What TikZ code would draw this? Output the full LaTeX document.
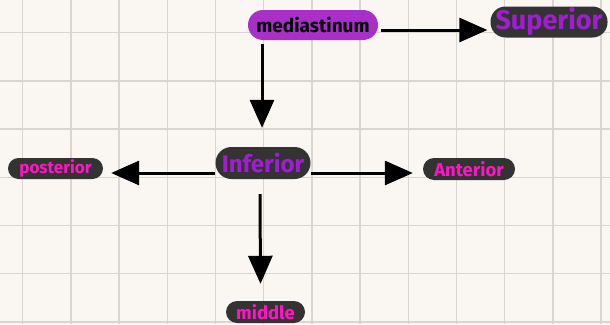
\documentclass[tikz,border=0pt]{standalone}
\usepackage{fontspec}
\setmainfont{Fira Sans}
\usetikzlibrary{arrows.meta}
\definecolor{paper}{HTML}{FAF7F2}
\definecolor{gridc}{HTML}{D9D5CF}
\definecolor{pillpurple}{HTML}{A82FC8}
\definecolor{txtpurple}{HTML}{A11ECF}
\definecolor{txtmagenta}{HTML}{FF14C8}
\definecolor{pilldark}{HTML}{333333}
\tikzset{
  pill/.style={rounded corners=#1, inner sep=0pt, draw=none},
  darkpill/.style={pill=#1, fill=pilldark},
  arr/.style={line width=3pt, -{Triangle[length=28pt,width=24pt]}},
  gridline/.style={draw=gridc, line width=1.5pt}
}
\begin{document}
\begin{tikzpicture}[x=1pt,y=-1pt]
\fill[paper] (0,0) rectangle (610,324);
\useasboundingbox (0,0) rectangle (610,324);
\foreach \i in {0,...,12} {\draw[gridline] ({22.7+48.2*\i},0) -- ({22.7+48.2*\i},324);}
\foreach \j in {0,...,6} {\draw[gridline] (0,{32.7+48.2*\j}) -- (610,{32.7+48.2*\j});}

\node[pill=15pt, fill=pillpurple, minimum width=130pt, minimum height=30pt, font=\fontsize{19}{19}\selectfont\bfseries, text=black] (med) at (313,25) {mediastinum};
\node[darkpill=15pt, minimum width=117pt, minimum height=31pt, font=\fontsize{27}{27}\selectfont\bfseries, text=txtpurple] (sup) at (549,22) {Superior};
\node[darkpill=16pt, minimum width=95pt, minimum height=32pt, font=\fontsize{24}{24}\selectfont\bfseries, text=txtpurple] (inf) at (263,163) {Inferior};
\node[darkpill=10.5pt, minimum width=95pt, minimum height=21pt, font=\fontsize{17}{17}\selectfont\bfseries, text=txtmagenta] (post) at (55.5,168.5) {posterior};
\node[darkpill=11pt, minimum width=92pt, minimum height=22pt, font=\fontsize{18.5}{18.5}\selectfont\bfseries, text=txtmagenta] (ant) at (469,169) {Anterior};
\node[darkpill=11pt, minimum width=79pt, minimum height=22pt, font=\fontsize{18.5}{18.5}\selectfont\bfseries, text=txtmagenta] (mid) at (265.5,312) {middle};

\draw[arr] ([shift={(3pt,-5pt)}]med.east) -- ([shift={(-3pt,-8pt)}]sup.west);
\draw[arr] ([shift={(-51pt,-4pt)}]med.south) -- ([shift={(-1pt,19pt)}]inf.north);
\draw[arr] ([yshift=-10pt]inf.west) -- ([shift={(8pt,-4.5pt)}]post.east);
\draw[arr] ([yshift=-10pt]inf.east) -- ([shift={(-10pt,-4pt)}]ant.west);
\draw[arr] ([shift={(-3pt,-15pt)}]inf.south) -- ([shift={(-5pt,17pt)}]mid.north);
\end{tikzpicture}
\end{document}
